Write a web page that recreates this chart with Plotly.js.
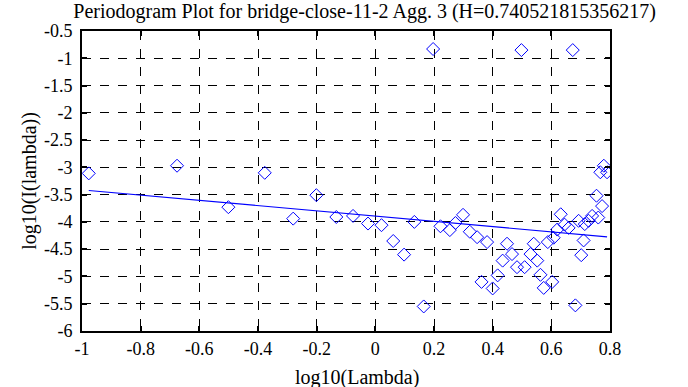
<!DOCTYPE html>
<html>
<head>
<meta charset="utf-8">
<script src="https://cdn.plot.ly/plotly-3.0.1.min.js"></script>
<style>html,body{margin:0;padding:0;background:#fff;}#chart{width:688px;height:387px;}</style>
</head>
<body>
<div id="chart"></div>
<script>
var logLambda = [-0.977,-0.676,-0.501,-0.377,-0.280,-0.201,-0.133,-0.076,-0.025,0.021,0.061,0.098,0.133,0.165,0.197,0.222,0.254,0.273,0.299,0.322,0.347,0.362,0.381,0.400,0.417,0.434,0.449,0.466,0.483,0.498,0.509,0.529,0.540,0.552,0.563,0.574,0.588,0.603,0.608,0.620,0.632,0.645,0.659,0.673,0.682,0.693,0.702,0.710,0.714,0.727,0.739,0.754,0.760,0.767,0.773,0.779,0.790];
var logI = [-3.11,-2.97,-3.73,-3.10,-3.94,-3.51,-3.91,-3.89,-4.03,-4.06,-4.35,-4.60,-4.00,-5.55,-0.83,-4.08,-4.15,-4.02,-3.87,-4.18,-4.28,-5.10,-4.37,-5.22,-4.98,-4.71,-4.40,-4.59,-4.83,-0.85,-4.83,-4.59,-4.40,-4.71,-4.97,-5.21,-4.37,-5.10,-4.29,-4.14,-3.86,-4.05,-4.11,-0.85,-5.53,-3.98,-4.61,-4.34,-4.04,-3.98,-3.89,-3.52,-3.92,-3.09,-3.71,-2.97,-3.09];
var fitX = [-0.977, 0.790];
var fitY = [-3.424, -4.274];
var xTickVals = [-1,-0.8,-0.6,-0.4,-0.2,0,0.2,0.4,0.6,0.8];
var xTickText = ["-1","-0.8","-0.6","-0.4","-0.2","0","0.2","0.4","0.6","0.8"];
var yTickVals = [-0.5,-1,-1.5,-2,-2.5,-3,-3.5,-4,-4.5,-5,-5.5,-6];
var yTickText = ["-0.5","-1","-1.5","-2","-2.5","-3","-3.5","-4","-4.5","-5","-5.5","-6"];

var font = "Times New Roman, Liberation Serif, serif";
var traces = [
  {x: logLambda, y: logI, type: 'scatter', mode: 'markers',
   marker: {symbol: 'diamond-open', size: 10, color: '#0000ff', line: {width: 1, color: '#0000ff'}},
   hoverinfo: 'skip'},
  {x: fitX, y: fitY, type: 'scatter', mode: 'lines',
   line: {color: '#0000ff', width: 1.2}, hoverinfo: 'skip'}
];
function axisCommon() {
  return {
    showline: true, linecolor: '#000', linewidth: 2, mirror: 'allticks',
    ticks: 'inside', ticklen: 5, tickwidth: 2, tickcolor: '#000',
    showgrid: true, gridcolor: '#000', gridwidth: 1, griddash: 'dash',
    zeroline: false, tickfont: {family: font, size: 18, color: '#000'}
  };
}
var layout = {
  width: 688, height: 387,
  font: {family: font, color: '#000'},
  margin: {l: 82, r: 78, t: 31, b: 56, pad: 0},
  paper_bgcolor: '#fff', plot_bgcolor: '#fff',
  showlegend: false,
  title: {text: 'Periodogram Plot for bridge-close-11-2 Agg. 3 (H=0.740521815356217)',
          font: {family: font, size: 20, color: '#000'}, x: 0.53, xanchor: 'center', y: 0.972, yanchor: 'middle'},
  xaxis: Object.assign(axisCommon(), {range: [-1, 0.8], tickvals: xTickVals, ticktext: xTickText}),
  yaxis: Object.assign(axisCommon(), {range: [-6, -0.5], tickvals: yTickVals, ticktext: yTickText,
          ticklabelstandoff: 4,
          title: {text: 'log10(I(lambda))', font: {family: font, size: 20, color: '#000'}, standoff: 2}}),
  annotations: [{text: 'log10(Lambda)', xref: 'paper', yref: 'paper', x: 0.52, y: -0.155,
                 xanchor: 'center', yanchor: 'middle', showarrow: false,
                 font: {family: font, size: 20, color: '#000'}}]
};
Plotly.newPlot('chart', traces, layout, {staticPlot: true, displayModeBar: false});
</script>
</body>
</html>
